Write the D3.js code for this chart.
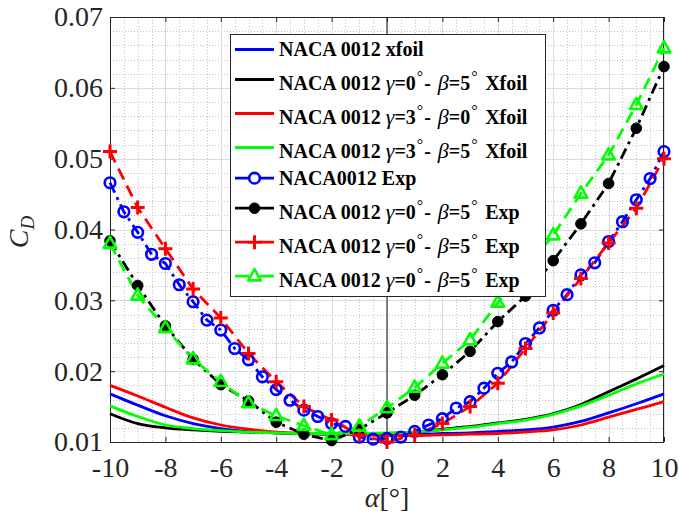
<!DOCTYPE html>
<html><head><meta charset="utf-8">
<script src="https://cdn.jsdelivr.net/npm/d3@7"></script>
<style>body{margin:0;background:#fff}svg{display:block}</style>
</head><body><svg id="c" width="679" height="519"></svg>
<script>
// ---------------- data ----------------
const alphaXfoil = [-10,-9,-8,-7,-6,-5,-4,-3,-2,-1,0,1,2,3,4,5,6,7,8,9,10];
const xfoilBase  = [0.0168,0.0152,0.0137,0.0126,0.0119,0.0115,0.0113,0.0112,0.0111,0.0111,0.0111,0.0111,0.0112,0.0113,0.0115,0.0117,0.0121,0.0129,0.0141,0.0154,0.0168];
const xfoilG0B5  = [0.0140,0.0126,0.0120,0.0117,0.0115,0.0114,0.0113,0.0112,0.0112,0.0112,0.0112,0.0114,0.0118,0.0122,0.0127,0.0132,0.0140,0.0153,0.0171,0.0189,0.0208];
const xfoilG3B0  = [0.0180,0.0165,0.0149,0.0134,0.0124,0.0118,0.0114,0.0112,0.0111,0.0110,0.0109,0.0109,0.0110,0.0111,0.0112,0.0114,0.0117,0.0124,0.0135,0.0146,0.0157];
const xfoilG3B5  = [0.0151,0.0136,0.0124,0.0119,0.0116,0.0114,0.0113,0.0112,0.0112,0.0112,0.0113,0.0114,0.0117,0.0121,0.0126,0.0131,0.0139,0.0151,0.0166,0.0182,0.0196];

const alphaExpHalf = [-10,-9.5,-9,-8.5,-8,-7.5,-7,-6.5,-6,-5.5,-5,-4.5,-4,-3.5,-3,-2.5,-2,-1.5,-1,-0.5,0,0.5,1,1.5,2,2.5,3,3.5,4,4.5,5,5.5,6,6.5,7,7.5,8,8.5,9,9.5,10];
const expBase = [0.0466,0.0425,0.0396,0.0365,0.0352,0.0322,0.0298,0.0272,0.0258,0.0232,0.0216,0.0192,0.0174,0.0159,0.0145,0.0136,0.0126,0.0122,0.0107,0.0104,0.0105,0.0107,0.0115,0.0124,0.0133,0.0148,0.0157,0.0176,0.0197,0.0213,0.0239,0.0261,0.0286,0.0308,0.0336,0.0353,0.0383,0.0411,0.0442,0.0472,0.0510];

const alphaExp = [-10,-9,-8,-7,-6,-5,-4,-3,-2,-1,0,1,2,3,4,5,6,7,8,9,10];
const expBlack = [0.0384,0.0321,0.0264,0.0217,0.0181,0.0158,0.0128,0.0111,0.0102,0.0118,0.0141,0.0166,0.0195,0.0228,0.0270,0.0306,0.0356,0.0408,0.0465,0.0543,0.0630];
const expRed   = [0.0510,0.0431,0.0373,0.0316,0.0275,0.0225,0.0185,0.0150,0.0131,0.0110,0.0100,0.0110,0.0126,0.0150,0.0183,0.0232,0.0282,0.0331,0.0381,0.0430,0.0500];
const expGreen = [0.0380,0.0307,0.0261,0.0217,0.0185,0.0155,0.0137,0.0123,0.0110,0.0122,0.0148,0.0177,0.0211,0.0244,0.0297,0.0345,0.0392,0.0451,0.0505,0.0576,0.0656];

const xTicks = [-10,-8,-6,-4,-2,0,2,4,6,8,10];
const yTicks = [0.01,0.02,0.03,0.04,0.05,0.06,0.07];
const xTickLabels = ["-10","-8","-6","-4","-2","0","2","4","6","8","10"];
const yTickLabels = ["0.01","0.02","0.03","0.04","0.05","0.06","0.07"];

const legendLabels = [
  "NACA 0012 xfoil",
  "NACA 0012 γ=0°- β=5° Xfoil",
  "NACA 0012 γ=3°- β=0° Xfoil",
  "NACA 0012 γ=3°- β=5° Xfoil",
  "NACA0012 Exp",
  "NACA 0012 γ=0°- β=5° Exp",
  "NACA 0012 γ=0°- β=5° Exp",
  "NACA 0012 γ=0°- β=5° Exp"
];

// ---------------- layout ----------------
const svg = d3.select("#c");
const X0 = 110, X1 = 664, Y0 = 17, Y1 = 442;
const x = d3.scaleLinear().domain([-10,10]).range([X0,X1]);
const y = d3.scaleLinear().domain([0.01,0.07]).range([Y1,Y0]);
const axisColor = "#262626";
const serif = "'Liberation Serif','Times New Roman',serif";

const series = [
  {xs: alphaXfoil, ys: xfoilBase, color:"#0000ff", dash:null, marker:null, w:2.8, smooth:true},
  {xs: alphaXfoil, ys: xfoilG0B5, color:"#000000", dash:null, marker:null, w:2.8, smooth:true},
  {xs: alphaXfoil, ys: xfoilG3B0, color:"#ff0000", dash:null, marker:null, w:2.8, smooth:true},
  {xs: alphaXfoil, ys: xfoilG3B5, color:"#00ff00", dash:null, marker:null, w:2.8, smooth:true},
  {xs: alphaExpHalf, ys: expBase, color:"#0000ff", dash:"11,5,3,5", marker:"circle", w:2.8},
  {xs: alphaExp, ys: expBlack, color:"#000000", dash:"11,5,3,5", marker:"dot", w:2.8},
  {xs: alphaExp, ys: expRed,   color:"#ff0000", dash:"12,7", marker:"plus", w:2.8},
  {xs: alphaExp, ys: expGreen, color:"#00ff00", dash:"12,7", marker:"triangle", w:2.8}
];

svg.append("rect").attr("x",X0).attr("y",Y0).attr("width",X1-X0).attr("height",Y1-Y0).attr("fill","#fff");

// minor grid
const gMinor = svg.append("g").attr("stroke","#c4c4c4").attr("stroke-width",1).attr("stroke-dasharray","1,2");
const xMinor = d3.range(-10,10.01,0.5).filter(v=>Math.abs(v%2)>1e-9);
const yMinor = d3.range(0.01,0.07001,0.002).filter(v=>Math.abs(Math.round(v*100)-v*100)>1e-6);
gMinor.selectAll("line.xm").data(xMinor).join("line").attr("x1",d=>Math.round(x(d))+0.5).attr("x2",d=>Math.round(x(d))+0.5).attr("y1",Y0).attr("y2",Y1);
gMinor.selectAll("line.ym").data(yMinor).join("line").attr("y1",d=>Math.round(y(d))+0.5).attr("y2",d=>Math.round(y(d))+0.5).attr("x1",X0).attr("x2",X1);
// major grid
const gMajor = svg.append("g").attr("stroke","#dadada").attr("stroke-width",1);
gMajor.selectAll("line.xg").data(xTicks).join("line").attr("x1",d=>Math.round(x(d))+0.5).attr("x2",d=>Math.round(x(d))+0.5).attr("y1",Y0).attr("y2",Y1);
gMajor.selectAll("line.yg").data(yTicks).join("line").attr("y1",d=>Math.round(y(d))+0.5).attr("y2",d=>Math.round(y(d))+0.5).attr("x1",X0).attr("x2",X1);

// x = 0 reference line
svg.append("line").attr("x1",x(0)).attr("x2",x(0)).attr("y1",Y0).attr("y2",Y1).attr("stroke","#333").attr("stroke-width",1.2);

// axes
const fmtX = d => xTickLabels[xTicks.indexOf(d)];
const fmtY = d => yTickLabels[yTicks.indexOf(d)];
const ax = svg.append("g").attr("transform",`translate(0,${Y1})`).call(d3.axisBottom(x).tickValues(xTicks).tickFormat(fmtX).tickSize(-5).tickPadding(15));
const ay = svg.append("g").attr("transform",`translate(${X0},0)`).call(d3.axisLeft(y).tickValues(yTicks).tickFormat(fmtY).tickSize(-5).tickPadding(7));
const axT = svg.append("g").attr("transform",`translate(0,${Y0})`).call(d3.axisTop(x).tickValues(xTicks).tickFormat("").tickSize(-5));
const ayR = svg.append("g").attr("transform",`translate(${X1},0)`).call(d3.axisRight(y).tickValues(yTicks).tickFormat("").tickSize(-5));
[ax,ay,axT,ayR].forEach(g=>{
  g.select(".domain").remove();
  g.selectAll("line").attr("stroke",axisColor);
  g.selectAll("text").attr("fill",axisColor).style("font-family",serif).style("font-size","28px");
});
svg.append("rect").attr("x",X0+0.5).attr("y",Y0+0.5).attr("width",X1-X0-1).attr("height",Y1-Y0).attr("fill","none").attr("stroke",axisColor).attr("stroke-width",1);

// lines
const gData = svg.append("g");
series.forEach(s=>{
  const pts = s.xs.map((a,i)=>[a,s.ys[i]]);
  const line = d3.line().x(d=>x(d[0])).y(d=>y(d[1])).curve(s.smooth?d3.curveMonotoneX:d3.curveLinear);
  gData.append("path").datum(pts).attr("d",line).attr("fill","none").attr("stroke",s.color)
    .attr("stroke-width",s.w).attr("stroke-dasharray",s.dash).attr("stroke-linejoin","round");
});

function drawMarker(g, type, cx, cy, color){
  if(type==="circle"){
    g.append("circle").attr("cx",cx).attr("cy",cy).attr("r",5.3).attr("fill","none").attr("stroke",color).attr("stroke-width",2.6);
  } else if(type==="dot"){
    g.append("circle").attr("cx",cx).attr("cy",cy).attr("r",5.3).attr("fill",color).attr("stroke",color).attr("stroke-width",1);
  } else if(type==="plus"){
    g.append("path").attr("d",`M${cx-7},${cy}H${cx+7}M${cx},${cy-7}V${cy+7}`).attr("stroke",color).attr("stroke-width",3).attr("fill","none");
  } else if(type==="triangle"){
    const r=7;
    g.append("path").attr("d",`M${cx},${cy-r}L${cx+r*0.9},${cy+r*0.6}L${cx-r*0.9},${cy+r*0.6}Z`).attr("stroke",color).attr("stroke-width",2.6).attr("fill","none").attr("stroke-linejoin","round");
  }
}
series.forEach(s=>{
  if(!s.marker) return;
  s.xs.forEach((a,i)=>drawMarker(gData, s.marker, x(a), y(s.ys[i]), s.color));
});

// legend
const LX = 230, LY = 34, LW = 315, LH = 262;
const gL = svg.append("g");
gL.append("rect").attr("x",LX+0.5).attr("y",LY+0.5).attr("width",LW).attr("height",LH).attr("fill","#fff").attr("stroke",axisColor).attr("stroke-width",1);
let base = 56;
legendLabels.forEach((lab,i)=>{
  const sup = lab.includes("°");
  if(i>0) base += sup ? 34 : 26.7;
  const ly = base - (sup ? 10.5 : 6.5);
  const s = series[i];
  gL.append("line").attr("x1",235).attr("x2",274).attr("y1",ly).attr("y2",ly).attr("stroke",s.color).attr("stroke-width",s.w).attr("stroke-dasharray",s.dash?"14,11":null);
  if(s.marker) drawMarker(gL, s.marker, 254.5, ly, s.color);
  const t = gL.append("text").attr("x",279).attr("y",base).attr("fill","#000").style("font-family",serif).style("font-size","20px").style("font-weight","bold");
  let raised = false;
  for(const ch of lab){
    if(ch==="°"){
      t.append("tspan").attr("dy",-8).attr("dx",1).style("font-size","16px").style("font-weight","normal").text("°");
      raised = true;
    } else {
      const sp = t.append("tspan").text(ch);
      if(raised){ sp.attr("dy",8).attr("dx", ch===" " ? 2.5 : 1); raised=false; }
      if(ch==="γ"||ch==="β") sp.style("font-style","italic").style("font-weight","normal").style("font-size","22px").attr("dx",ch==="β"?2:0);
    }
  }
});

// axis labels
svg.append("text").attr("transform","translate(28,232) rotate(-90)").attr("text-anchor","middle").attr("fill",axisColor)
  .style("font-family",serif).style("font-size","28px").style("font-style","italic")
  .call(t=>{t.append("tspan").text("C"); t.append("tspan").attr("dy",6).style("font-size","19px").text("D");});
svg.append("text").attr("x",x(0)).attr("y",507).attr("text-anchor","middle").attr("fill",axisColor)
  .style("font-family",serif).style("font-size","28px")
  .call(t=>{t.append("tspan").style("font-style","italic").text("α"); t.append("tspan").text("[°]");});
</script></body></html>
